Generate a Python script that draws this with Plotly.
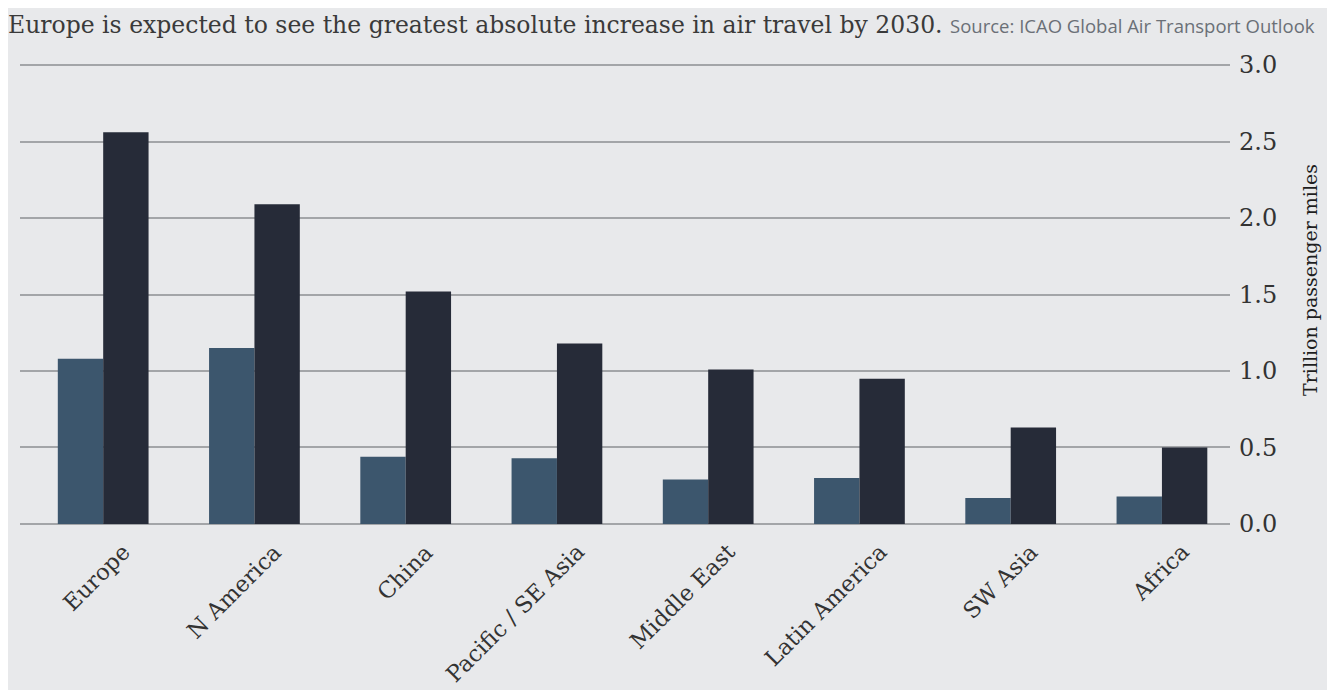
import plotly.graph_objects as go

regions = ["Europe", "N America", "China", "Pacific / SE Asia", "Middle East",
           "Latin America", "SW Asia", "Africa"]
current = [1.08, 1.15, 0.44, 0.43, 0.29, 0.30, 0.17, 0.18]
by_2030 = [2.56, 2.09, 1.52, 1.18, 1.01, 0.95, 0.63, 0.50]
y_ticks = [0.0, 0.5, 1.0, 1.5, 2.0, 2.5, 3.0]

serif = "DejaVu Serif, serif"

fig = go.Figure()
fig.add_trace(go.Bar(x=regions, y=current, name="Today",
                     marker=dict(color="#3c566d", line=dict(width=0))))
fig.add_trace(go.Bar(x=regions, y=by_2030, name="2030",
                     marker=dict(color="#262b38", line=dict(width=0))))

title_text = ("Europe is expected to see the greatest absolute increase in air travel by 2030. "
              "<span style='font-family:Open Sans, sans-serif;font-size:18.5px;color:#6b7077'>"
              "Source: ICAO Global Air Transport Outlook</span>")

# rotated category labels
annotations = []
for r in regions:
    annotations.append(dict(
        x=r, y=0, xref="x", yref="y", text=r, showarrow=False,
        textangle=-45, xanchor="right", yanchor="top",
        xshift=35, yshift=-12,
        font=dict(family=serif, size=22.5, color="#333333"),
    ))
annotations.append(dict(
    x=1.066, y=0.531, xref="paper", yref="paper",
    text="Trillion passenger miles", showarrow=False, textangle=-90,
    xanchor="center", yanchor="middle",
    font=dict(family=serif, size=19, color="#1e1e1e"),
))

fig.update_layout(
    width=1335, height=690,
    margin=dict(l=12, r=113, t=54, b=171),
    paper_bgcolor="#e8e9eb",
    plot_bgcolor="#e8e9eb",
    barmode="group",
    bargap=0.4,
    bargroupgap=0,
    showlegend=False,
    title=dict(text=title_text, x=0.0, xanchor="left", y=0.975, yanchor="middle",
               font=dict(family=serif, size=23.5, color="#3a3a3a")),
    xaxis=dict(
        range=[-0.55, 7.45],
        showticklabels=False,
        showgrid=False,
        showline=False,
        zeroline=False,
        ticks="",
    ),
    yaxis=dict(
        side="right",
        range=[-0.02, 3.02],
        tickvals=y_ticks,
        ticktext=[f"{v:.1f}" for v in y_ticks],
        tickfont=dict(family=serif, size=24, color="#333333"),
        showgrid=True,
        gridcolor="#a3a5a8",
        gridwidth=1.5,
        zeroline=False,
        showline=False,
        ticks="",
        ticklabelstandoff=8,
    ),
    annotations=annotations,
)

fig.write_html("out.html")
